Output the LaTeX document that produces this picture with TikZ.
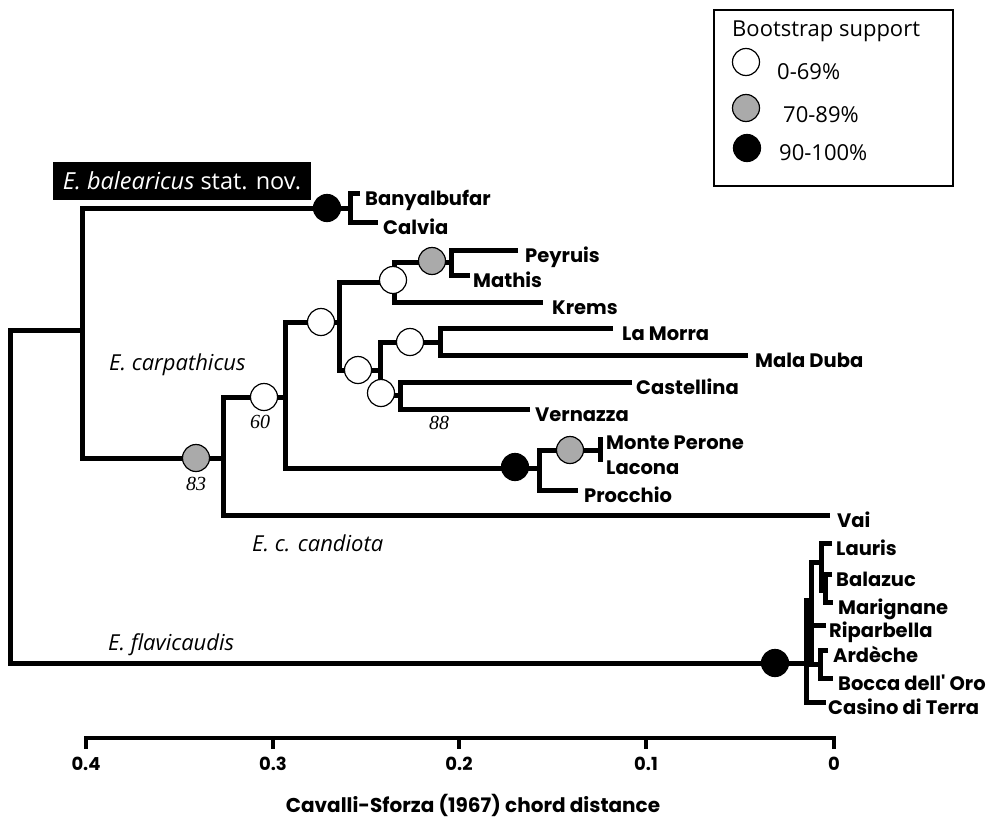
\documentclass[tikz,border=0pt]{standalone}
\usepackage{fontspec}
\setmainfont{Open Sans}
\newfontfamily\tipfont{Poppins}
\newfontfamily\numfont{Liberation Serif}
\usetikzlibrary{positioning}
\definecolor{bsgray}{RGB}{170,170,170}

\begin{document}
\begin{tikzpicture}[x=1pt, y=-1pt,
    branch/.style={line width=5pt},
    boot/.style={circle, draw=black, line width=1.2pt, minimum size=27pt, inner sep=0pt},
    bootlow/.style={boot, fill=white},
    bootmid/.style={boot, fill=bsgray},
    boothigh/.style={boot, fill=black},
    taxon/.style={inner sep=0pt, text height=14pt, text depth=0pt, yshift=-5pt,
                  font=\tipfont\bfseries\fontsize{19.5}{19.5}\selectfont},
    clade/.style={anchor=west, inner sep=0pt, font=\itshape\fontsize{22}{22}\selectfont},
    support/.style={font=\numfont\itshape\fontsize{20}{20}\selectfont},
    legendtext/.style={anchor=west, inner sep=0pt, font=\fontsize{22}{22}\selectfont},
    axislabel/.style={font=\tipfont\bfseries\fontsize{18}{18}\selectfont}]

    \useasboundingbox (0,0) rectangle (990,819);

    % Tips
    \coordinate (tBany) at (360,193);
    \coordinate (tCalv) at (378,222);
    \coordinate (tPeyr) at (518,250);
    \coordinate (tMath) at (470,275);
    \coordinate (tKrem) at (543,302);
    \coordinate (tLaMo) at (613,328);
    \coordinate (tMala) at (748,355);
    \coordinate (tCast) at (632,382);
    \coordinate (tVern) at (530,409);
    \coordinate (tMont) at (600,437);
    \coordinate (tLaco) at (600,462);
    \coordinate (tProc) at (578,490);
    \coordinate (tVai)  at (830,515);
    \coordinate (tLaur) at (832,543);
    \coordinate (tBala) at (832,574);
    \coordinate (tMari) at (833,602);
    \coordinate (tRipa) at (826,625);
    \coordinate (tArde) at (828,650);
    \coordinate (tBocc) at (833,678);
    \coordinate (tCasi) at (826,702);

    % Internal nodes
    \coordinate (root)  at (10,500);
    \coordinate (nA)    at (82,330);
    \coordinate (nBal)  at (350,208);
    \coordinate (nCarp) at (223,458);
    \coordinate (n60)   at (285,397);
    \coordinate (nU)    at (339,322);
    \coordinate (nPM)   at (394,282);
    \coordinate (nPeyr) at (451,262);
    \coordinate (nLMV)  at (380,370);
    \coordinate (nLM)   at (440,342);
    \coordinate (nCV)   at (400,395);
    \coordinate (nElba) at (539,468);
    \coordinate (nFl)   at (806,663);
    \coordinate (nS)    at (811,600);
    \coordinate (nT)    at (821,562);
    \coordinate (nBM)   at (825,590);
    \coordinate (nAB)   at (820,664);

    % Draw Branches
    \draw[branch] (nA) -| (root) |- (nFl);
    \draw[branch] (nBal) -| (nA) |- (nCarp);
    \draw[branch] (tBany) -| (nBal) |- (tCalv);
    \draw[branch] (n60) -| (nCarp) |- (tVai);
    \draw[branch] (nU) -| (n60) |- (nElba);
    \draw[branch] (nPM) -| (nU) |- (nLMV);
    \draw[branch] (nPeyr) -| (nPM) |- (tKrem);
    \draw[branch] (tPeyr) -| (nPeyr) |- (tMath);
    \draw[branch] (nLM) -| (nLMV) |- (nCV);
    \draw[branch] (tLaMo) -| (nLM) |- (tMala);
    \draw[branch] (tCast) -| (nCV) |- (tVern);
    \draw[branch] (tMont |- 0,450) -| (nElba) |- (tProc);
    \draw[branch] (tMont) -- (tLaco);
    \draw[branch] (nS) -| (nFl) |- (tCasi);
    \draw[branch] (nT) -| (nS) |- (nAB);
    \draw[branch] (nS |- tRipa) -- (tRipa);
    \draw[branch] (tLaur) -| (nT) |- (nBM);
    \draw[branch] (tBala) -| (nBM) |- (tMari);
    \draw[branch] (tArde) -| (nAB) |- (tBocc);

    % Draw Bootstrap Circles
    \node[boothigh] (bBal)  at (327,208) {};
    \node[bootmid]  (b83)   at (196,458) {};
    \node[bootlow]  (b60)   at (264,397) {};
    \node[bootlow]  (bU)    at (321,322) {};
    \node[bootlow]  (bPM)   at (393,280) {};
    \node[bootmid]  (bPeyr) at (432,261) {};
    \node[bootlow]  (bLMV)  at (358,370) {};
    \node[bootlow]  (bLM)   at (410,342) {};
    \node[bootlow]  (bCV)   at (381,393) {};
    \node[boothigh] (bElba) at (515,467) {};
    \node[bootmid]  (bMP)   at (570,450) {};
    \node[boothigh] (bFl)   at (775,663) {};

    \node[support] (s83) at (196,484) {83};
    \node[support] (s60) at (260,422) {60};
    \node[support] (s88) at (439,423) {88};

    % Tip Labels
    \node[taxon, right=5pt of tBany] (lBany) {Banyalbufar};
    \node[taxon, right=5pt of tCalv] (lCalv) {Calvia};
    \node[taxon, right=7pt of tPeyr] (lPeyr) {Peyruis};
    \node[taxon, right=3pt of tMath] (lMath) {Mathis};
    \node[taxon, right=9pt of tKrem] (lKrem) {Krems};
    \node[taxon, right=9pt of tLaMo] (lLaMo) {La Morra};
    \node[taxon, right=7pt of tMala] (lMala) {Mala Duba};
    \node[taxon, right=4pt of tCast] (lCast) {Castellina};
    \node[taxon, right=5pt of tVern] (lVern) {Vernazza};
    \node[taxon, right=6pt of tMont] (lMont) {Monte Perone};
    \node[taxon, right=6pt of tLaco] (lLaco) {Lacona};
    \node[taxon, right=6pt of tProc] (lProc) {Procchio};
    \node[taxon, right=7pt of tVai]  (lVai)  {Vai};
    \node[taxon, right=4pt of tLaur] (lLaur) {Lauris};
    \node[taxon, right=4pt of tBala] (lBala) {Balazuc};
    \node[taxon, right=5pt of tMari] (lMari) {Marignane};
    \node[taxon, right=3pt of tRipa] (lRipa) {Riparbella};
    \node[taxon, right=5pt of tArde] (lArde) {Ardèche};
    \node[taxon, right=5pt of tBocc] (lBocc) {Bocca dell' Oro};
    \node[taxon, right=2pt of tCasi] (lCasi) {Casino di Terra};

    % Clade Labels
    \node[fill=black, text=white, minimum width=258pt, minimum height=38pt, inner sep=0pt,
          font=\fontsize{23.5}{23.5}\selectfont] (lBal) at (182,181) {\textit{E. balearicus} stat. nov.};
    \node[clade] (lCarp) at (109,365) {E. carpathicus};
    \node[clade] (lCand) at (252,543) {E. c. candiota};
    \node[clade] (lFlav) at (108,645) {E. flavicaudis};

    % Draw Legend
    \draw[line width=1.3pt] (714,10) rectangle (953,186);
    \node[legendtext] (lTitle) at (732,31) {Bootstrap support};
    \node[bootlow]  (kLow)  at (746,62) {};
    \node[bootmid]  (kMid)  at (746,108) {};
    \node[boothigh] (kHigh) at (747,148) {};
    \node[legendtext] (lLow)  at (777,72)  {0-69\%};
    \node[legendtext] (lMid)  at (783,115) {70-89\%};
    \node[legendtext] (lHigh) at (779,153) {90-100\%};

    % Draw Scale
    \draw[line width=4pt] (86,738) -- (834,738);
    \foreach \x/\lab [count=\i] in {86/0.4, 273/0.3, 459/0.2, 646/0.1, 834/0}{
      \draw[line width=4pt] (\x,736) -- (\x,749);
      \node[axislabel] (tick\i) at (\x,764) {\lab};
    }
    \node[axislabel, font=\tipfont\bfseries\fontsize{20}{20}\selectfont] (lAxis) at (473,805)
      {Cavalli-Sforza (1967) chord distance};
\end{tikzpicture}
\end{document}
